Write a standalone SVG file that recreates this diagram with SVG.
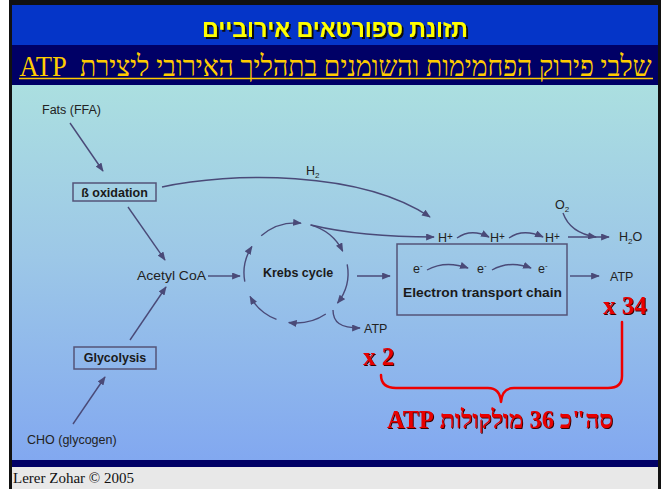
<svg xmlns="http://www.w3.org/2000/svg" width="671" height="489" viewBox="0 0 671 489">
<defs>
<linearGradient id="bg" x1="0" y1="0" x2="0" y2="1">
<stop offset="0" stop-color="#abdfe0"/>
<stop offset="0.45" stop-color="#9dc8e7"/>
<stop offset="1" stop-color="#82a8f0"/>
</linearGradient>
<filter id="sh1" x="-5%" y="-20%" width="110%" height="150%">
<feDropShadow dx="2" dy="2" stdDeviation="0.3" flood-color="#111111" flood-opacity="1"/>
</filter>
<filter id="sh2" x="-5%" y="-20%" width="110%" height="150%">
<feDropShadow dx="1" dy="1" stdDeviation="0.2" flood-color="#3a0000" flood-opacity="1"/>
</filter>
<marker id="ah" viewBox="0 0 10 8" refX="9" refY="4" markerWidth="9" markerHeight="7" markerUnits="userSpaceOnUse" orient="auto">
<path d="M0,0 L10,4 L0,8 z" fill="#4a4a78"/>
</marker>
<style>
.ln{fill:none;stroke:#4a4a78;stroke-width:1.4;marker-end:url(#ah)}
.box{fill:none;stroke:#545478;stroke-width:1.5}
.t{font-family:"Liberation Sans",Arial,sans-serif;font-size:12.5px;fill:#222}
.b{font-family:"Liberation Sans",Arial,sans-serif;font-size:12.5px;font-weight:bold;fill:#1a1a1a}
.red{font-family:"Liberation Serif","Times New Roman",serif;font-weight:bold;font-size:25px;fill:#e80000;filter:url(#sh2)}
.brace{fill:none;stroke:#ee0000;stroke-width:2.5;stroke-linecap:round;stroke-linejoin:round}
</style>
</defs>

<!-- frame -->
<rect x="0" y="0" width="671" height="489" fill="#ffffff"/>
<rect x="9" y="0" width="652" height="489" fill="#111111"/>
<rect x="12" y="5" width="646" height="40" fill="#0535c8"/>
<rect x="12" y="45" width="646" height="40" fill="#000066"/>
<rect x="12" y="85" width="646" height="375" fill="url(#bg)"/>
<rect x="12" y="460" width="646" height="7" fill="#000066"/>
<rect x="12" y="467" width="646" height="22" fill="#e8e8e8"/>

<!-- titles -->
<g id="title1">
<text x="335" y="37" direction="rtl" text-anchor="middle" textLength="266" lengthAdjust="spacingAndGlyphs" font-family="Liberation Sans, DejaVu Sans, sans-serif" font-weight="bold" font-size="24" fill="#ffff00" filter="url(#sh1)">תזונת ספורטאים אירוביים</text>
</g>
<g id="title2">
<text transform="translate(335.5,76) scale(1,1.09)" x="0" y="0" direction="rtl" text-anchor="middle" xml:space="preserve" textLength="632" lengthAdjust="spacingAndGlyphs" font-family="Liberation Serif, DejaVu Serif, serif" font-size="26.6" fill="#ffcc00">שלבי פירוק הפחמימות והשומנים בתהליך האירובי ליצירת  ATP</text>
<line x1="19" y1="78.5" x2="653" y2="78.5" stroke="#ffcc00" stroke-width="1.5"/>
</g>

<!-- connectors -->
<g id="connectors">
<path class="ln" d="M70,123 L103,171"/>
<path class="ln" d="M128,207 L165,260"/>
<path class="ln" d="M130,340 L166,287"/>
<path class="ln" d="M73,424 L105,377"/>
<path class="ln" d="M208,276 L240,276"/>
<path class="ln" d="M162,187 C230,172 360,170 430,217"/>
<path class="ln" d="M311,225 C340,232 380,237 434,237"/>
<path class="ln" d="M357,276 L390,276"/>
<path class="ln" d="M333,310 C333,322 340,328 360,328"/>
<!-- Krebs cycle arcs -->
<path class="ln" d="M244.8,281.7 A52,50 0 0 1 251.9,246.5"/>
<path class="ln" d="M261.2,235.8 A52,50 0 0 1 301,223.1"/>
<path class="ln" d="M310.3,224.9 A52,50 0 0 1 342.7,251.1"/>
<path class="ln" d="M347.2,264.3 A52,50 0 0 1 337.5,303.1"/>
<path class="ln" d="M325.8,314 A52,50 0 0 1 288.8,322.5"/>
<path class="ln" d="M276.5,319.4 A52,50 0 0 1 250.1,296.5"/>
<!-- H+ chain -->
<path class="ln" d="M457,238 Q471,228 489,237"/>
<path class="ln" d="M509,238 Q523,228 543,237"/>
<path class="ln" d="M568,237 L609,237"/>
<path class="ln" d="M563,213 Q570,233 596,237"/>
<!-- e- chain -->
<path class="ln" d="M427,270 Q445,260 468,268"/>
<path class="ln" d="M492,270 Q510,260 531,268"/>
<path class="ln" d="M570,276 L599,276"/>
</g>

<!-- nodes -->
<g id="fats"><text class="t" x="42" y="114">Fats (FFA)</text></g>
<g id="beta-oxidation">
<rect class="box" x="73" y="183" width="83" height="18"/>
<text class="b" x="114.5" y="197" text-anchor="middle">ß oxidation</text>
</g>
<g id="h2"><text class="t" x="306" y="175" font-size="11">H<tspan font-size="8" dy="3">2</tspan></text></g>
<g id="acetyl-coa"><text class="t" x="137" y="280" textLength="69" lengthAdjust="spacingAndGlyphs">Acetyl CoA</text></g>
<g id="krebs"><text class="b" x="298" y="277" text-anchor="middle" font-size="13">Krebs cycle</text></g>
<g id="atp-krebs"><text class="t" x="364" y="333" font-size="12">ATP</text></g>
<g id="glycolysis">
<rect class="box" x="74" y="347" width="82" height="22"/>
<text class="b" x="115" y="362" text-anchor="middle">Glycolysis</text>
</g>
<g id="cho"><text class="t" x="27" y="444">CHO (glycogen)</text></g>
<g id="etc">
<rect class="box" x="397" y="244" width="170" height="71"/>
<text class="b" x="482.5" y="297" text-anchor="middle" textLength="159" lengthAdjust="spacingAndGlyphs">Electron transport chain</text>
<text class="t" x="413" y="273">e<tspan font-size="8" dy="-5">-</tspan></text>
<text class="t" x="477" y="273">e<tspan font-size="8" dy="-5">-</tspan></text>
<text class="t" x="538" y="273">e<tspan font-size="8" dy="-5">-</tspan></text>
</g>
<g id="hplus">
<text class="t" x="438" y="242">H<tspan font-size="10" dy="-2">+</tspan></text>
<text class="t" x="490" y="242">H<tspan font-size="10" dy="-2">+</tspan></text>
<text class="t" x="545" y="242">H<tspan font-size="10" dy="-2">+</tspan></text>
</g>
<g id="o2"><text class="t" x="555" y="209" font-size="11.5">O<tspan font-size="8" dy="3">2</tspan></text></g>
<g id="h2o"><text class="t" x="619" y="241" font-size="12">H<tspan font-size="8" dy="3">2</tspan><tspan dy="-3">O</tspan></text></g>
<g id="atp-etc"><text class="t" x="610" y="281" font-size="12">ATP</text></g>

<!-- red annotations -->
<g id="x34"><text class="red" x="603" y="314">x 34</text></g>
<g id="x2"><text class="red" x="363" y="365">x 2</text></g>
<g id="brace">
<path class="brace" d="M381,375 Q381,388 396,388 L488,388 Q500,388 501,402 Q502,388 514,388 L608,388 Q622,388 622,376 L622,322"/>
</g>
<g id="total">
<text class="red" x="500" y="428" direction="rtl" text-anchor="middle" textLength="226" lengthAdjust="spacingAndGlyphs">סה"כ 36 מולקולות ATP</text>
</g>

<!-- footer -->
<g id="footer"><text x="13" y="483" font-family="Liberation Serif, Times New Roman, serif" font-size="15" fill="#111">Lerer Zohar © 2005</text></g>
</svg>
